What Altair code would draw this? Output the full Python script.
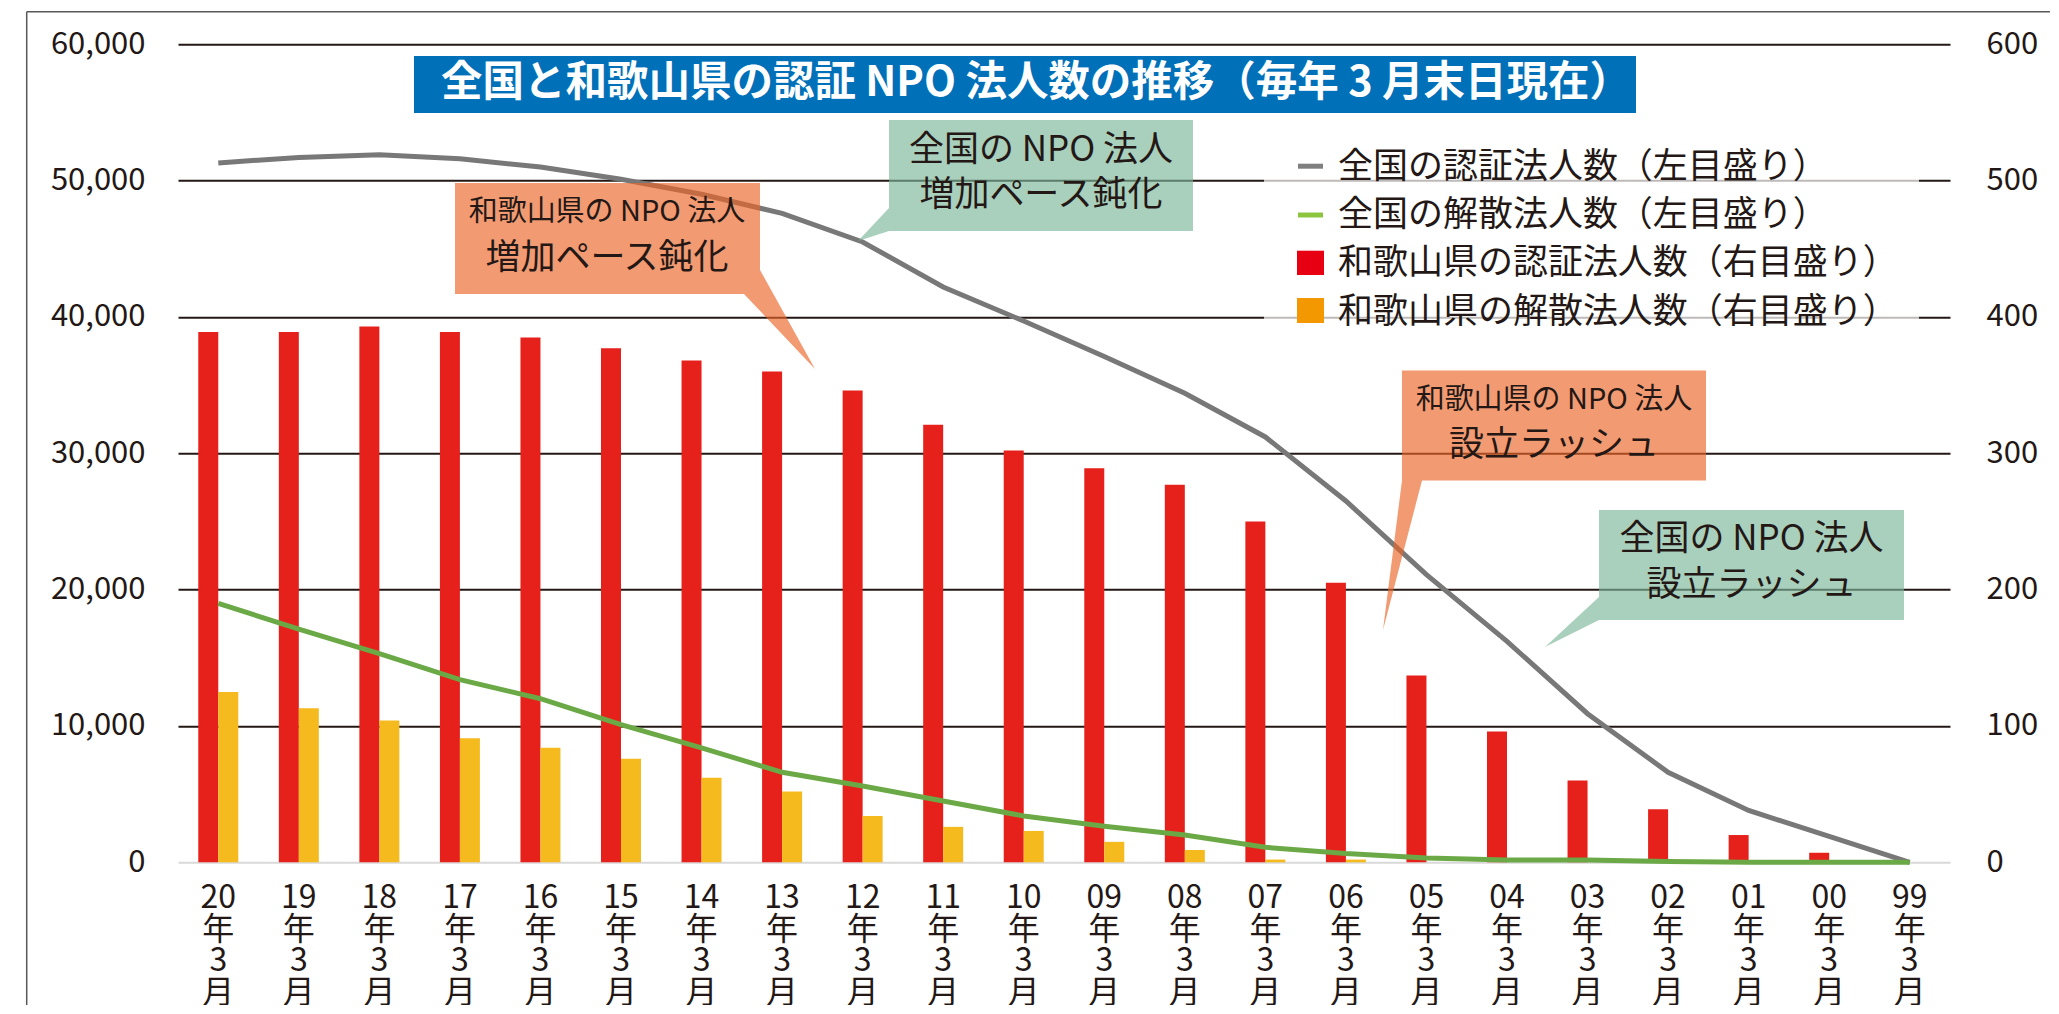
import altair as alt
import pandas as pd

FONT = "Noto Sans CJK JP"
TXT = "#231815"

# ---------------- data ----------------
years = ["20", "19", "18", "17", "16", "15", "14", "13", "12", "11", "10",
         "09", "08", "07", "06", "05", "04", "03", "02", "01", "00", "99"]
categories = [f"{y}年3月" for y in years]
national_certified = [51300, 51700, 51900, 51600, 51000, 50100, 49000, 47600, 45500, 42200, 39700,
                      37100, 34400, 31200, 26500, 21100, 16200, 10900, 6600, 3800, 1900, 0]
national_dissolved = [19000, 17100, 15300, 13400, 12000, 10100, 8400, 6600, 5600, 4500, 3400,
                      2650, 2000, 1100, 640, 320, 160, 160, 50, 0, 0, 0]
wakayama_certified = [389, 389, 393, 389, 385, 377, 368, 360, 346, 321, 302,
                      289, 277, 250, 205, 137, 96, 60, 39, 20, 7, 0]
wakayama_dissolved = [125, 113, 104, 91, 84, 76, 62, 52, 34, 26, 23,
                      15, 9, 2, 2, 0, 0, 0, 0, 0, 0, 0]

left_ticks = [0, 10000, 20000, 30000, 40000, 50000, 60000]
right_ticks = [0, 100, 200, 300, 400, 500, 600]

title_text = "全国と和歌山県の認証 NPO 法人数の推移（毎年 3 月末日現在）"
legend_labels = ["全国の認証法人数（左目盛り）", "全国の解散法人数（左目盛り）",
                 "和歌山県の認証法人数（右目盛り）", "和歌山県の解散法人数（右目盛り）"]
callout_wk_slow = ["和歌山県の NPO 法人", "増加ペース鈍化"]
callout_nat_slow = ["全国の NPO 法人", "増加ペース鈍化"]
callout_wk_rush = ["和歌山県の NPO 法人", "設立ラッシュ"]
callout_nat_rush = ["全国の NPO 法人", "設立ラッシュ"]

df = pd.DataFrame({
    "cat": categories,
    "nat_cert": national_certified,
    "nat_diss": national_dissolved,
    "wk_cert": wakayama_certified,
    "wk_diss": wakayama_dissolved,
})
one = pd.DataFrame({"k": [0]})

# ---------------- encodings ----------------
x_enc = alt.X(
    "cat:N", sort=categories,
    scale=alt.Scale(paddingInner=0, paddingOuter=0),
    axis=alt.Axis(
        title=None, labelAngle=0, domain=False, ticks=False, grid=False,
        labelFont=FONT, labelFontSize=32, labelColor=TXT, labelLineHeight=31.7,
        labelPadding=20, labelBaseline="top",
        labelExpr="[slice(datum.label,0,2), slice(datum.label,2,3), slice(datum.label,3,4), slice(datum.label,4,5)]",
    ),
)

left_axis = alt.Axis(
    title=None, orient="left", values=left_ticks, format=",d",
    labelFont=FONT, labelFontSize=31, labelColor=TXT, labelPadding=33,
    domain=False, ticks=False, grid=True, gridWidth=2,
    gridColor=alt.condition("datum.value === 0", alt.value("#d9d9d9"), alt.value(TXT)),
)
right_axis = alt.Axis(
    title=None, orient="right", values=right_ticks, format="d",
    labelFont=FONT, labelFontSize=31, labelColor=TXT, labelPadding=36,
    domain=False, ticks=False, grid=False,
)

y_left = lambda f: alt.Y(f"{f}:Q", scale=alt.Scale(domain=[0, 60000], nice=False), axis=left_axis)
y_right = lambda f: alt.Y(f"{f}:Q", scale=alt.Scale(domain=[0, 600], nice=False), axis=right_axis)

base = alt.Chart(df)

bars = alt.layer(
    base.mark_bar(width=20, xOffset=-10, color="#E6211B").encode(x=x_enc, y=y_right("wk_cert")),
    base.mark_bar(width=20, xOffset=10, color="#F5BA1E").encode(x=x_enc, y=y_right("wk_diss")),
)
lines = alt.layer(
    base.mark_line(color="#787878", strokeWidth=5).encode(x=x_enc, y=y_left("nat_cert")),
    base.mark_line(color="#6BA946", strokeWidth=5).encode(x=x_enc, y=y_left("nat_diss")),
)
data_layers = alt.layer(bars, lines).resolve_scale(y="independent")

# ---------------- annotation helpers (pixel positions relative to plot origin) ----------------
def rect(x1, y1, x2, y2, color, opacity=1.0):
    return alt.Chart(one).mark_rect(color=color, opacity=opacity).encode(
        x=alt.value(x1), x2=alt.value(x2), y=alt.value(y1), y2=alt.value(y2))

def shape(px, py, path, color, opacity):
    return alt.Chart(one).mark_point(
        shape=path, size=4, filled=True, fill=color, opacity=opacity, strokeWidth=0
    ).encode(x=alt.value(px), y=alt.value(py))

def text(px, py, t, size, color=TXT, weight="normal", align="center", lh=None):
    kw = dict(text=t, font=FONT, fontSize=size, color=color, fontWeight=weight,
              align=align, baseline="middle")
    if lh is not None:
        kw["lineHeight"] = lh
    return alt.Chart(one).mark_text(**kw).encode(x=alt.value(px), y=alt.value(py))

def rule_h(x1, x2, y, color, w):
    return alt.Chart(one).mark_rule(color=color, strokeWidth=w).encode(
        x=alt.value(x1), x2=alt.value(x2), y=alt.value(y))

def rule_v(x, y1, y2, color, w):
    return alt.Chart(one).mark_rule(color=color, strokeWidth=w).encode(
        x=alt.value(x), y=alt.value(y1), y2=alt.value(y2))

ORANGE_BOX = "#EB6426"
GREEN_BOX = "#7BB599"
BOX_OP = 0.65

frame = [
    rule_h(-151.3, 1890, -32.6, "#595757", 1.5),
    rule_v(-151.3, -32.6, 1000, "#595757", 1.5),
]

callouts = [
    shape(277, 138.7, "M0,0H305V87L360,186L289,111H0Z", ORANGE_BOX, BOX_OP),
    shape(711, 75.7, "M0,0H304V111H0L-31,121L0,88Z", GREEN_BOX, BOX_OP),
    shape(1224, 326.2, "M0,0H304V110H20L-19,259.5L0,110Z", ORANGE_BOX, BOX_OP),
    shape(1421, 465.7, "M0,0H305V110H0L-54,137L0,87Z", GREEN_BOX, BOX_OP),
]
callout_texts = [
    text(429, 168.2, callout_wk_slow[0], 29),
    text(429, 213.7, callout_wk_slow[1], 35),
    text(863, 105.7, callout_nat_slow, 35, lh=45.5),
    text(1376, 355.7, callout_wk_rush[0], 29),
    text(1376, 401.2, callout_wk_rush[1], 35),
    text(1573.5, 495, callout_nat_rush, 35, lh=45.5),
]

title = [
    rect(236, 11.7, 1458, 68.7, "#0070B9"),
    text(858, 40.2, title_text, 41.5, color="white", weight="bold"),
]

legend = [
    rect(1086, 93.7, 1741, 293.7, "white", 0.7),
    rect(1120, 119.4, 1145, 124.4, "#7F7F7F"),
    rect(1120, 168.2, 1145, 173.2, "#8CC63F"),
    rect(1119, 206.4, 1146, 230.7, "#E60012"),
    rect(1119, 253.7, 1146, 278.7, "#F39800"),
    text(1160, 122.4, legend_labels, 35, align="left", lh=48.3),
]

chart = alt.layer(
    *frame, data_layers, *callouts, *title, *callout_texts, *legend
).properties(
    width=1772, height=818,
    autosize=alt.AutoSizeParams(type="none"),
    padding={"left": 170, "top": 36.3, "right": 100, "bottom": 143},
    background="white",
).configure_view(stroke=None)

chart.save("out.html", embed_options={"renderer": "svg", "actions": False})
